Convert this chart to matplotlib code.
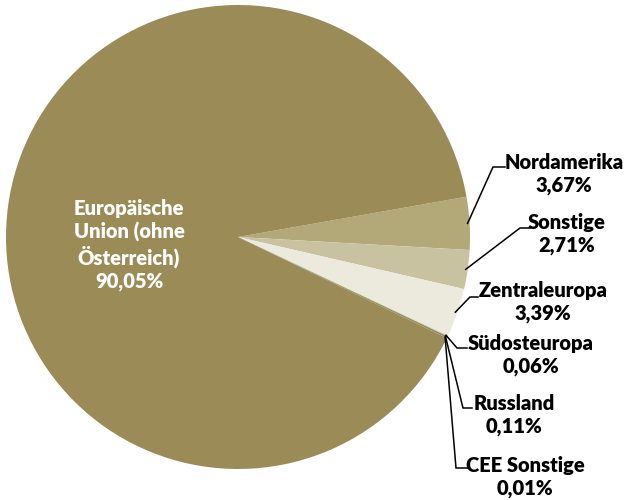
import numpy as np
import matplotlib
matplotlib.use("Agg")
import matplotlib.pyplot as plt

# data
regions = ["Nordamerika", "Sonstige", "Zentraleuropa", "Südosteuropa",
           "Russland", "CEE Sonstige", "Europäische\nUnion (ohne\nÖsterreich)"]
shares = [3.67, 2.71, 3.39, 0.06, 0.11, 0.01, 90.05]
colors = ["#B2A878", "#C9C2A0", "#ECE9DD", "#C2CA9C", "#8E8A5A", "#6F6A40", "#9A8B57"]

W, H = 625, 500
fig = plt.figure(figsize=(W / 100, H / 100), dpi=100)
ax = fig.add_axes([0, 0, 1, 1])

cx, cy, r = 238, H - 237, 232
wedges, _ = ax.pie(shares, colors=colors, startangle=10, counterclock=False,
                   center=(cx, cy), radius=r, frame=True,
                   wedgeprops=dict(linewidth=0))
ax.set_xlim(0, W)
ax.set_ylim(0, H)
ax.set_aspect("equal")
ax.axis("off")

def fmt(v):
    return f"{v:.2f}".replace(".", ",") + "%"

font = dict(family=["Lato", "DejaVu Sans"], fontweight="heavy", fontsize=14.5)

# label block centres and elbow of leader line (pixel coords, y from top)
label_pos = [(564, 174), (567, 234), (543, 302), (531, 355), (514, 415), (525, 477)]
elbows = [((493, 167), (505, 167)), ((520, 228), (530, 228)), ((470, 297), (478, 297)),
          ((457, 348), (467, 348)), ((463, 408), (472, 408)), ((456, 468), (468, 468))]

for i in range(6):
    w = wedges[i]
    mid = np.deg2rad((w.theta1 + w.theta2) / 2)
    sx = cx + (r - 2) * np.cos(mid)
    sy = cy + (r - 2) * np.sin(mid)
    (ex, ey), (hx, hy) = elbows[i]
    ax.plot([sx, ex, hx], [sy, H - ey, H - hy], color="black", lw=1.1,
            solid_joinstyle="miter")
    lx, ly = label_pos[i]
    ax.text(lx, H - ly, f"{regions[i]}\n{fmt(shares[i])}", ha="center", va="center",
            multialignment="center", linespacing=1.2, color="black", **font)

ax.text(129, H - 245, f"{regions[6]}\n{fmt(shares[6])}", ha="center", va="center",
        multialignment="center", linespacing=1.2, color="white", **font)

fig.savefig("out.png", dpi=100)
